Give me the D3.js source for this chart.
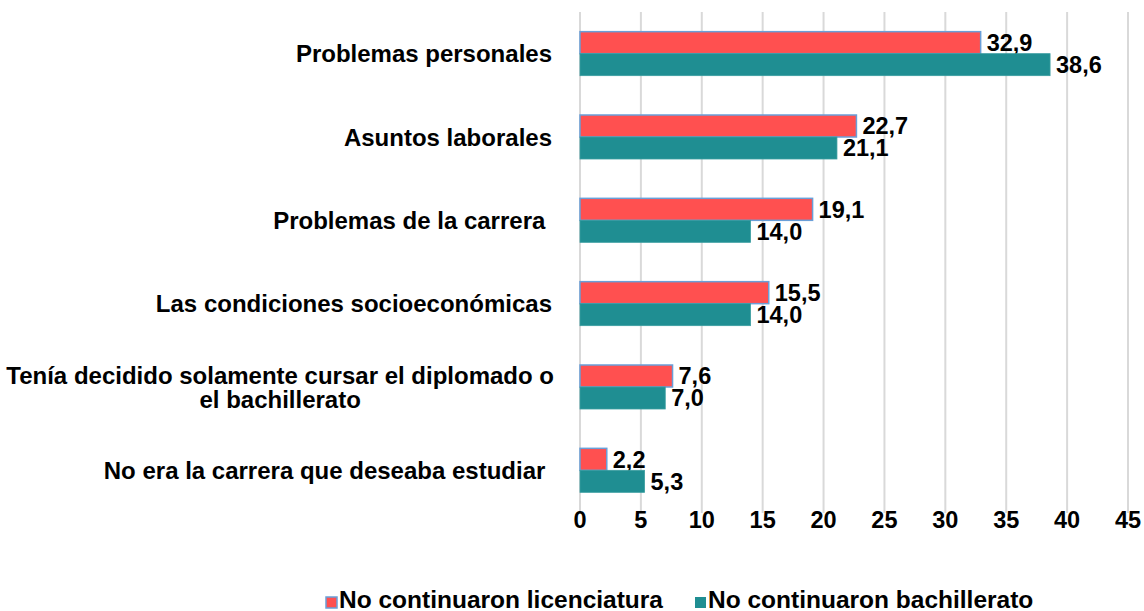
<!DOCTYPE html>
<html>
<head>
<meta charset="utf-8">
<script src="https://cdn.jsdelivr.net/npm/d3@7"></script>
<style>
  body { margin: 0; background: #fff; }
  text { font-family: "Liberation Sans", Arial, sans-serif; font-weight: bold; fill: #000; }
</style>
</head>
<body>
<script>
var categories = [
    "Problemas personales",
    "Asuntos laborales",
    "Problemas de la carrera ",
    "Las condiciones socioeconómicas",
    "Tenía decidido solamente cursar el diplomado o|el bachillerato",
    "No era la carrera que deseaba estudiar "
];
var seriesNames = ["No continuaron licenciatura", "No continuaron bachillerato"];
var licenciatura = [32.9, 22.7, 19.1, 15.5, 7.6, 2.2];
var bachillerato = [38.6, 21.1, 14.0, 14.0, 7.0, 5.3];
var ticks = [0, 5, 10, 15, 20, 25, 30, 35, 40, 45];
var colors = ["#FF5050", "#1F8E92"];

var svg = d3.select("body").append("svg")
    .attr("width", 1144)
    .attr("height", 611);

var x = d3.scaleLinear().domain([0, 45]).range([580, 1128]);
var y = d3.scaleBand().domain(d3.range(categories.length)).range([12, 512])
    .paddingInner(0.472).paddingOuter(0.236);
var ySub = d3.scaleBand().domain([0, 1]).range([0, y.bandwidth()]);

// gridlines
svg.append("g")
    .selectAll("line")
    .data(ticks)
    .enter().append("line")
    .attr("x1", d => x(d)).attr("x2", d => x(d))
    .attr("y1", 12).attr("y2", 513)
    .attr("stroke", "#d9d9d9")
    .attr("stroke-width", 2);

// tick labels
svg.append("g")
    .selectAll("text")
    .data(ticks)
    .enter().append("text")
    .attr("x", d => x(d))
    .attr("y", 528)
    .attr("text-anchor", "middle")
    .style("font-size", "23.5px")
    .text(d => d);

var fmt = d3.format(".1f");
var series = [licenciatura, bachillerato];

series.forEach(function(vals, s){
    var g = svg.append("g");
    g.selectAll("rect")
        .data(vals)
        .enter().append("rect")
        .attr("x", x(0))
        .attr("y", (d, i) => y(i) + ySub(s))
        .attr("width", d => x(d) - x(0))
        .attr("height", ySub.bandwidth())
        .attr("fill", colors[s])
        .attr("stroke", s === 0 ? "#6A9FD8" : "#3A9DA0")
        .attr("stroke-width", s === 0 ? 1.5 : 0.8);
    g.selectAll("text")
        .data(vals)
        .enter().append("text")
        .attr("x", d => x(d) + 6)
        .attr("y", (d, i) => y(i) + ySub(s) + ySub.bandwidth() / 2)
        .attr("dy", "0.36em")
        .style("font-size", "23.5px")
        .text(d => fmt(d).replace(".", ","));
});

// category labels
categories.forEach(function(c, i){
    var lines = c.split("|");
    var cy = y(i) + y.bandwidth() / 2;
    if (lines.length === 1) {
        svg.append("text")
            .attr("x", 552)
            .attr("y", cy)
            .attr("dy", "0.36em")
            .attr("text-anchor", "end")
            .style("font-size", "24px")
            .style("white-space", "pre")
            .text(c);
    } else {
        var first = svg.append("text")
            .attr("x", 554)
            .attr("y", cy - 12)
            .attr("dy", "0.36em")
            .attr("text-anchor", "end")
            .style("font-size", "24px")
            .text(lines[0]);
        var w = first.node().getComputedTextLength();
        svg.append("text")
            .attr("x", 554 - w / 2)
            .attr("y", cy + 12)
            .attr("dy", "0.36em")
            .attr("text-anchor", "middle")
            .style("font-size", "24px")
            .text(lines[1]);
    }
});

// legend
var legendX = [326, 695];
seriesNames.forEach(function(n, s){
    svg.append("rect")
        .attr("x", legendX[s])
        .attr("y", 597)
        .attr("width", 11)
        .attr("height", 11)
        .attr("fill", colors[s])
        .attr("stroke", s === 0 ? "#6A9FD8" : "none")
        .attr("stroke-width", 1.5);
    svg.append("text")
        .attr("x", legendX[s] + 13)
        .attr("y", 608)
        .style("font-size", "24.5px")
        .text(n);
});
</script>
</body>
</html>
